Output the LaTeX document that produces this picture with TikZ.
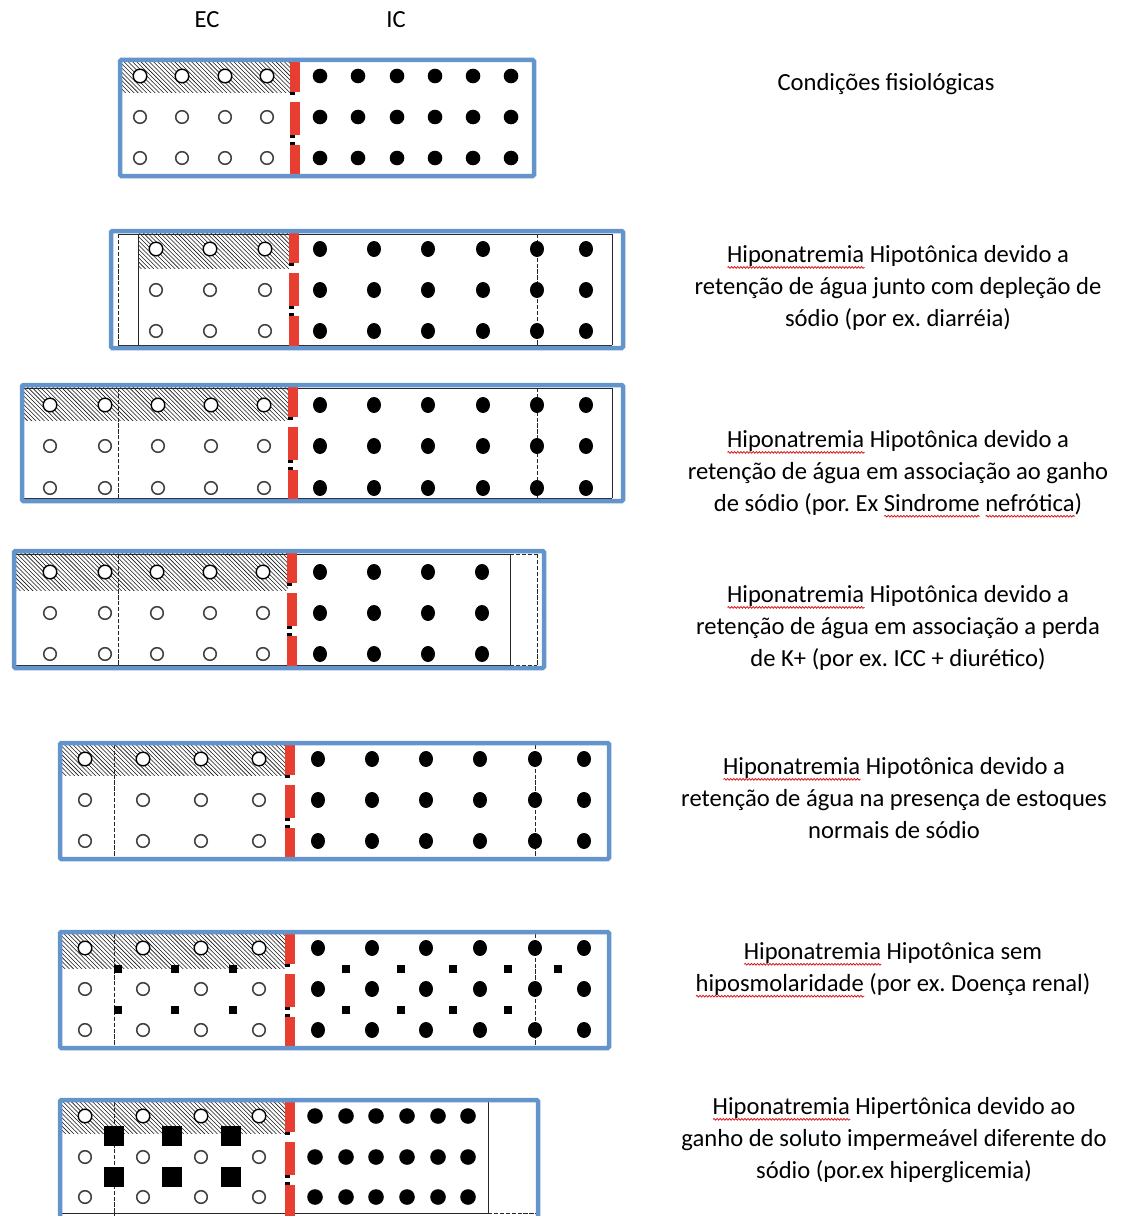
\documentclass[tikz,border=0pt]{standalone}
\usepackage{fontspec}
\setmainfont{Carlito}
\usepackage{tikz}
\usetikzlibrary{patterns,decorations.pathmorphing}
\definecolor{boxblue}{RGB}{99,148,204}
\definecolor{wallred}{RGB}{232,62,50}
\definecolor{spellred}{RGB}{220,30,30}
\frenchspacing
\newlength\spellw
% red wavy mark under a word
\newcommand\spellmark[1]{\settowidth\spellw{#1}\rlap{\raisebox{-3.4pt}{\tikz[x=1pt,y=1pt,baseline=0pt]\draw[spellred,line width=0.6pt,decorate,decoration={snake,amplitude=0.6pt,segment length=2.2pt}] (0,0) -- (\spellw,0);}}#1}
% red membrane with its three pieces, #1 = left edge, #2 = top of the panel
\newcommand\cellwall[2]{%
  \foreach \a/\b in {-1/32,42/75,85/118}
    \fill[wallred] (#1,#2+\a) rectangle (#1+10,#2+\b);
  \foreach \a in {32,75,82}
    \fill[black] (#1,#2+\a) rectangle (#1+5,#2+\a+3);
}
\tikzset{
  panel/.style={draw=boxblue, line width=3.2pt, rounded corners=1pt},
  hatch/.style={pattern=north west lines, pattern color=black!90},
  water/.style={draw=black!75, fill=white, line width=1.1pt},
  wetwater/.style={draw=black, fill=white, line width=1pt},
  frame/.style={draw=black!85, line width=0.6pt},
  dashframe/.style={frame, dash pattern=on 3pt off 1.2pt},
  caption/.style={font=\fontsize{17.5}{22.7}\selectfont, align=center, inner sep=0pt},
}

\begin{document}
\begin{tikzpicture}[x=0.025cm, y=-0.025cm]
\useasboundingbox (0,0) rectangle (1120,1216);
\clip (0,0) rectangle (1120,1216);

\node[caption] (ec) at (207,20) {EC};
\node[caption] (ic) at (396,20) {IC};

% panel 1
\fill[hatch] (120,60) rectangle (290,93);
\foreach \x in {140,182,225,267} {
  \draw[wetwater] (\x,76) circle[radius=6.8];
  \foreach \y in {117,158} \draw[water] (\x,\y) circle[radius=6.3];
}
\foreach \x in {320,358,397,435,473,511}
  \foreach \y in {76,117,158} \fill (\x,\y) circle[radius=7.3];
\cellwall{290}{60}
\draw[panel] (120,60) rectangle (534,176);
\node[caption] (cap1) at (886,84) {Condições fisiológicas};

% panel 2
\fill[hatch] (138,233) rectangle (289,268);
\draw[frame] (118,234) -- (612,234) (118,345) -- (612,345);
\draw[dashframe] (118,234) -- (118,345) (537,234) -- (537,345);
\draw[frame] (138,234) -- (138,345) (612,234) -- (612,345);
\foreach \x in {156,210,265} {
  \draw[wetwater] (\x,249) circle[radius=6.8];
  \foreach \y in {290,331} \draw[water] (\x,\y) circle[radius=6.3];
}
\foreach \x in {320,374,428,483,537,586}
  \foreach \y in {249,290,331} \fill (\x,\y) ellipse[x radius=7, y radius=8];
\cellwall{289}{231}
\draw[panel] (111,231) rectangle (623,348);
\node[caption] (cap2) at (898,288) {\spellmark{Hiponatremia} Hipotônica devido a\\retenção de água junto com depleção de\\sódio (por ex. diarréia)};

% panel 3
\fill[hatch] (22,387) rectangle (288,420);
\draw[frame] (22,388) -- (612,388) (22,498) -- (612,498);
\draw[dashframe] (118,388) -- (118,498) (537,388) -- (537,498);
\draw[frame] (612,388) -- (612,498);
\foreach \x in {50,105,158,211,264} {
  \draw[wetwater] (\x,405) circle[radius=6.8];
  \foreach \y in {446,488} \draw[water] (\x,\y) circle[radius=6.3];
}
\foreach \x in {320,374,428,483,537,586}
  \foreach \y in {405,446,488} \fill (\x,\y) ellipse[x radius=7, y radius=8];
\cellwall{288}{385}
\draw[panel] (22,385) rectangle (623,501);
\node[caption] (cap3) at (898,474) {\spellmark{Hiponatremia} Hipotônica devido a\\retenção de água em associação ao ganho\\de sódio (por. Ex \spellmark{Sindrome} \spellmark{nefrótica})};

% panel 4
\fill[hatch] (14,553) rectangle (288,590);
\draw[frame] (14,554) -- (510,554) (14,665) -- (510,665);
\draw[dashframe] (510,554) -- (537,554) (510,665) -- (537,665);
\draw[dashframe] (118,554) -- (118,665) (537,554) -- (537,665);
\draw[frame] (510,554) -- (510,665);
\foreach \x in {50,105,157,210,263} {
  \draw[wetwater] (\x,572) circle[radius=6.8];
  \foreach \y in {613,654} \draw[water] (\x,\y) circle[radius=6.3];
}
\foreach \x in {320,374,428,482}
  \foreach \y in {572,613,654} \fill (\x,\y) ellipse[x radius=7, y radius=8];
\cellwall{287}{551}
\draw[panel] (14,551) rectangle (544,668);
\node[caption] (cap4) at (898,628) {\spellmark{Hiponatremia} Hipotônica devido a\\retenção de água em associação a perda\\de K+ (por ex. ICC + diurético)};

% panel 5
\fill[hatch] (60,745) rectangle (286,775);
\draw[dashframe] (114,745) -- (114,857) (535,745) -- (535,857);
\foreach \x in {85,143,201,259} {
  \draw[wetwater] (\x,759) circle[radius=6.8];
  \foreach \y in {800,841} \draw[water] (\x,\y) circle[radius=6.3];
}
\foreach \x in {318,372,426,480,535,584}
  \foreach \y in {759,800,841} \fill (\x,\y) ellipse[x radius=7, y radius=8];
\cellwall{285}{743}
\draw[panel] (60,743) rectangle (609,859);
\node[caption] (cap5) at (894,798) {\spellmark{Hiponatremia} Hipotônica devido a\\retenção de água na presença de estoques\\normais de sódio};

% panel 6
\fill[hatch] (60,934) rectangle (286,968);
\draw[dashframe] (114,934) -- (114,1046) (535,934) -- (535,1046);
\foreach \x in {85,143,201,259} {
  \draw[wetwater] (\x,948) circle[radius=6.8];
  \foreach \y in {989,1030} \draw[water] (\x,\y) circle[radius=6.3];
}
\foreach \x in {318,372,426,480,535,584}
  \foreach \y in {948,989,1030} \fill (\x,\y) ellipse[x radius=7, y radius=8];
\foreach \x in {118,175,233,346,401,453,508}
  \foreach \y in {969,1010} \fill (\x-4,\y-4) rectangle (\x+4,\y+4);
\fill (554,965) rectangle (562,973);
\cellwall{285}{932}
\draw[panel] (60,932) rectangle (609,1048);
\node[caption] (cap6) at (893,970) {\spellmark{Hiponatremia} Hipotônica sem\\\spellmark{hiposmolaridade} (por ex. Doença renal)};

% panel 7
\fill[hatch] (60,1102) rectangle (286,1133);
\draw[frame] (60,1213) -- (488,1213) (488,1102) -- (488,1213);
\draw[dashframe] (488,1213) -- (536,1213) (536,1102) -- (536,1213);
\draw[dashframe] (114,1102) -- (114,1216);
\foreach \x in {85,143,201,259} {
  \draw[wetwater] (\x,1116) circle[radius=6.8];
  \foreach \y in {1157,1197} \draw[water] (\x,\y) circle[radius=6.3];
}
\foreach \x in {114,172,231}
  \foreach \y in {1136,1177} \fill (\x-10,\y-10) rectangle (\x+10,\y+10);
\foreach \x in {315,346,376,407,438,468}
  \foreach \y in {1116,1157,1197} \fill (\x,\y) circle[radius=7.8];
\cellwall{285}{1100}
\draw[panel] (60,1100) rectangle (538,1240);
\node[caption] (cap7) at (894,1140) {\spellmark{Hiponatremia} Hipertônica devido ao\\ganho de soluto impermeável diferente do\\sódio (por.ex hiperglicemia)};
\end{tikzpicture}
\end{document}
